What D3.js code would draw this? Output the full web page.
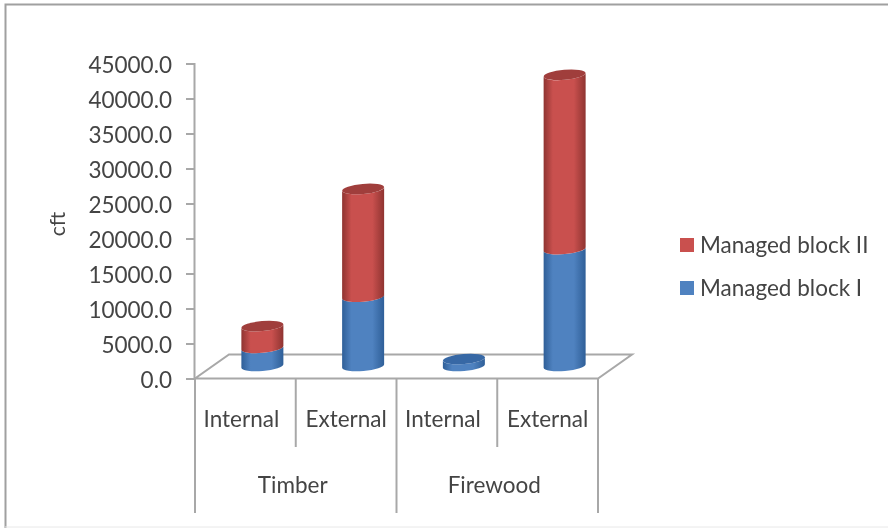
<!DOCTYPE html>
<html>
<head>
<meta charset="utf-8">
<script src="https://cdn.jsdelivr.net/npm/d3@7"></script>
<style>
  html, body { margin: 0; padding: 0; background: #fff; }
  svg { display: block; filter: blur(0.7px); }
  text { font-family: Lato, "Open Sans", sans-serif; fill: #444; }
</style>
</head>
<body>
<div id="chart"></div>
<script>
const groups = ["Timber", "Firewood"];
const categories = ["Internal", "External", "Internal", "External"];
const seriesNames = ["Managed block I", "Managed block II"];
const blockOne = [2600, 9900, 1000, 16700];
const blockTwo = [3100, 15400, 0, 24900];
const yTicks = [0, 5000, 10000, 15000, 20000, 25000, 30000, 35000, 40000, 45000];

const width = 888, height = 528;
const lineColor = "#a8a8a8";
const labelSize = 22.5;

const svg = d3.select("#chart").append("svg")
  .attr("width", width)
  .attr("height", height);

// side shading of the cylinders
const defs = svg.append("defs");
function addGradient(id, edge, mid) {
  const g = defs.append("linearGradient").attr("id", id);
  g.append("stop").attr("offset", "0%").attr("stop-color", edge);
  g.append("stop").attr("offset", "22%").attr("stop-color", mid);
  g.append("stop").attr("offset", "72%").attr("stop-color", mid);
  g.append("stop").attr("offset", "100%").attr("stop-color", edge);
}
addGradient("side0", "#2f5f98", "#4f82c0");
addGradient("side1", "#8f3431", "#c9504e");
const topColors = ["#3768a5", "#a03e3c"];

// outer frame
svg.append("path")
  .attr("d", `M5.5,${height}V4.5H${width}`)
  .attr("fill", "none")
  .attr("stroke", "#a0a0a0")
  .attr("stroke-width", 2);
svg.append("line")
  .attr("x1", 5).attr("x2", width)
  .attr("y1", 527).attr("y2", 527)
  .attr("stroke", "#e8e8e8");

const x = d3.scaleBand().domain(d3.range(categories.length)).range([195, 598]);
const y = d3.scaleLinear().domain([0, 45000]).range([378.5, 63.5]);

// floor of the 3d plot
const depthX = 34, depthY = 24;
svg.append("path")
  .attr("d", `M${x.range()[0]},${y(0)}H${x.range()[1]}L${x.range()[1] + depthX},${y(0) - depthY}H${x.range()[0] + depthX}Z`)
  .attr("fill", "#fff")
  .attr("stroke", lineColor)
  .attr("stroke-width", 2);

// y axis
const yAxis = svg.append("g")
  .attr("transform", `translate(194,0)`)
  .call(d3.axisLeft(y).tickValues(yTicks).tickFormat(d3.format(".1f")).tickSize(8).tickPadding(14));
yAxis.selectAll("path, line").attr("stroke", lineColor).attr("stroke-width", 2);
yAxis.selectAll("text").attr("font-size", labelSize).attr("y", 1.5);

svg.append("text")
  .attr("transform", "translate(65,224) rotate(-90)")
  .attr("text-anchor", "middle")
  .attr("font-size", 21)
  .text("cft");

// two level category axis
const bandEdges = d3.range(categories.length + 1).map(i => x.range()[0] + i * x.bandwidth());
svg.append("g").selectAll("line")
  .data(bandEdges)
  .enter().append("line")
  .attr("x1", d => d).attr("x2", d => d)
  .attr("y1", y(0))
  .attr("y2", (d, i) => i % 2 === 0 ? 513 : 447)
  .attr("stroke", lineColor)
  .attr("stroke-width", 2);

svg.append("g").selectAll("text")
  .data(categories)
  .enter().append("text")
  .attr("x", (d, i) => x(i) + x.bandwidth() / 2 + (d === "Internal" ? -4 : 0))
  .attr("y", 427)
  .attr("text-anchor", "middle")
  .attr("font-size", labelSize)
  .text(d => d);

svg.append("g").selectAll("text")
  .data(groups)
  .enter().append("text")
  .attr("x", (d, i) => x(i * 2) + x.bandwidth() - 3)
  .attr("y", 493)
  .attr("text-anchor", "middle")
  .attr("font-size", labelSize)
  .text(d => d);

// stacked cylinders
const rows = categories.map((c, i) => ({ i, one: blockOne[i], two: blockTwo[i] }));
const stacked = d3.stack().keys(["one", "two"])(rows);

const barDx = 17, barDy = 12.5, rx = 21, ry = 5, tilt = 5;
const tiltY = rx * Math.sin(tilt * Math.PI / 180);

function cylinder(cx, y0, y1) {
  const l = cx - rx, r = cx + rx;
  return `M${l},${y0 + tiltY}A${rx},${ry} ${-tilt} 0 0 ${r},${y0 - tiltY}` +
    `L${r},${y1 - tiltY}A${rx},${ry} ${-tilt} 0 1 ${l},${y1 + tiltY}Z`;
}

stacked.forEach((layer, s) => {
  const g = svg.append("g");
  g.selectAll("path")
    .data(layer.filter(d => d[1] > d[0]))
    .enter().append("path")
    .attr("d", d => cylinder(x(d.data.i) + x.bandwidth() / 2 + barDx, y(d[0]) - barDy, y(d[1]) - barDy))
    .attr("fill", `url(#side${s})`);
});

// the lid takes the colour of the topmost non-empty segment
svg.append("g").selectAll("ellipse")
  .data(rows)
  .enter().append("ellipse")
  .attr("rx", rx).attr("ry", ry)
  .attr("transform", d => `translate(${x(d.i) + x.bandwidth() / 2 + barDx},${y(d.one + d.two) - barDy}) rotate(${-tilt})`)
  .attr("fill", d => d.two > 0 ? topColors[1] : topColors[0]);

// legend, reversed like the stack
const legendColors = ["#4f82c0", "#c9504e"];
const legend = svg.append("g").selectAll("g")
  .data(seriesNames)
  .enter().append("g")
  .attr("transform", (d, i) => `translate(680,${288 - i * 43})`);
legend.append("rect")
  .attr("y", -7).attr("width", 14).attr("height", 14)
  .attr("fill", (d, i) => legendColors[i]);
legend.append("text")
  .attr("x", 20).attr("y", 8)
  .attr("font-size", labelSize)
  .text(d => d);
</script>
</body>
</html>
